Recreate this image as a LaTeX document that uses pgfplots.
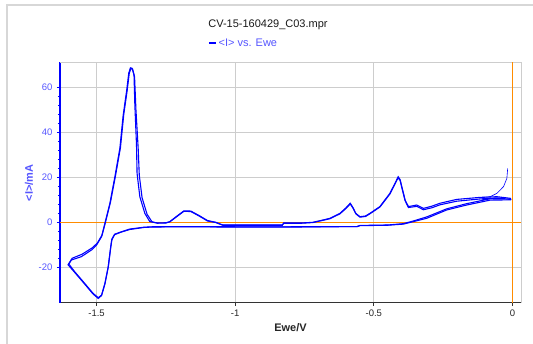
\documentclass[border=0pt]{standalone}
\usepackage{fontspec}
\setmainfont{Liberation Sans}
\usepackage{pgfplots}
\pgfplotsset{compat=1.18}
\definecolor{cvblue}{RGB}{0,0,255}
\definecolor{lblue}{RGB}{85,85,255}
\definecolor{orng}{RGB}{255,140,0}
\definecolor{gridgray}{RGB}{205,205,205}
\definecolor{framegray}{RGB}{215,215,215}
\begin{document}
\begin{tikzpicture}[x=1pt,y=1pt]
\path[use as bounding box] (0,0) rectangle (533,344);
\draw[framegray, line width=1.2pt] (7,0) -- (7,339) -- (533,339);
\node[font=\fontsize{11}{13}\selectfont, text=black!90] at (268,319) {CV-15-160429\_C03.mpr};
\begin{axis}[
  at={(60pt,41.3pt)}, anchor=south west,
  scale only axis, width=461pt, height=240.7pt,
  xmin=-1.632, xmax=0.031, ymin=-35.8, ymax=71.4,
  axis x line*=bottom, axis y line*=left,
  x axis line style={-, black!80, line width=0.9pt},
  y axis line style={-, cvblue, line width=1.4pt},
  xtick={-1.5,-1,-0.5,0}, xticklabels={-1.5,-1,-0.5,0},
  ytick={-20,0,20,40,60}, yticklabels={-20,0,20,40,60},
  minor y tick num=4,
  tick align=outside,
  major tick length=3pt, minor tick length=2pt,
  x tick style={black!80, line width=0.8pt},
  y tick style={cvblue, line width=0.8pt},
  minor y tick style={cvblue, line width=0.8pt},
  xticklabel style={font=\fontsize{9.5}{11}\selectfont, text=black!85, yshift=-1pt},
  yticklabel style={font=\fontsize{9.5}{11}\selectfont, text=lblue, xshift=-1pt},
  grid=major, major grid style={gridgray, line width=0.9pt},
  xlabel={\textbf{Ewe/V}},
  xlabel style={at={(axis description cs:0.5,0)}, anchor=center, yshift=-24.5pt, font=\fontsize{11}{13}\selectfont, text=black!85},
  ylabel={\textbf{<I>/mA}},
  ylabel style={at={(axis description cs:-0.0672,0.497)}, anchor=center, font=\fontsize{11}{13}\selectfont, text=lblue},
  legend style={at={(axis description cs:0.321,1.0777)}, anchor=west, draw=none, fill=none,
    inner sep=0pt, outer sep=0pt, font=\fontsize{11}{13}\selectfont, text=lblue,
    /tikz/every even column/.append style={column sep=0pt}},
  legend image code/.code={\draw[cvblue, line width=1.6pt] (-1pt,0pt) -- (6pt,0pt);},
  clip=false,
]
% frame (top, right)
\draw[gridgray, line width=0.9pt] (rel axis cs:0,1) -- (rel axis cs:1,1) -- (rel axis cs:1,0);
% orange zero lines
\draw[orng, line width=1.2pt] (axis cs:-1.632,0) -- (axis cs:0.031,0);
\draw[orng, line width=1.2pt] (axis cs:0,-35.8) -- (axis cs:0,71.4);

% cycle 1
\addplot[cvblue, line width=1.1pt] coordinates {
(-0.005,10.0) (-0.08,9.9) (-0.165,7.7) (-0.237,5.5) (-0.309,1.8) (-0.357,0.3)
(-0.393,-0.8) (-0.45,-1.3) (-0.55,-1.5) (-0.56,-1.9) (-0.8,-2.0) (-1.0,-2.0)
(-1.2,-1.9) (-1.30,-2.0) (-1.33,-2.2) (-1.38,-3.0) (-1.41,-4.2) (-1.435,-5.3)
(-1.445,-7.5) (-1.449,-10.9) (-1.458,-19.8) (-1.470,-27.2) (-1.482,-32.4)
(-1.494,-33.6) (-1.513,-31.6) (-1.543,-27.2) (-1.579,-22.0) (-1.600,-18.6)
(-1.591,-16.8) (-1.555,-15.3) (-1.518,-12.3) (-1.500,-10.1) (-1.482,-6.4)
(-1.470,-0.4) (-1.452,8.5) (-1.434,20.3) (-1.416,33.0) (-1.404,47.8)
(-1.392,58.2) (-1.384,66.4) (-1.378,68.8) (-1.372,68.6) (-1.365,65.6)
(-1.362,52.2) (-1.356,34.4) (-1.354,21.8) (-1.344,11.4) (-1.326,4.0)
(-1.308,0.3) (-1.28,-0.3) (-1.25,-0.2) (-1.236,0.3) (-1.21,2.8) (-1.185,5.1)
(-1.16,5.0) (-1.13,3.0) (-1.10,0.8) (-1.07,0.0) (-1.045,-1.2) (-0.83,-1.2)
(-0.825,-0.3) (-0.76,-0.3) (-0.72,0.0) (-0.694,0.7) (-0.658,1.8) (-0.622,4.0)
(-0.600,6.5) (-0.585,8.5) (-0.575,6.5) (-0.565,4.0) (-0.55,2.5) (-0.53,2.8)
(-0.514,4.0) (-0.478,7.0) (-0.442,12.9) (-0.425,17.0) (-0.412,20.3)
(-0.405,19.0) (-0.399,15.9) (-0.387,9.9) (-0.375,7.0) (-0.345,7.7)
(-0.321,6.2) (-0.29,7.2) (-0.261,8.5) (-0.201,10.2) (-0.117,11.1)
(-0.056,11.4) (-0.008,10.7) (-0.005,10.0)
};
\addlegendentry{<I> vs. Ewe}

% cycle 2 (slightly offset, partial doubling)
\addplot[cvblue, line width=1.1pt, forget plot] coordinates {
(-0.005,10.4) (-0.08,10.5) (-0.165,8.3) (-0.237,6.0) (-0.309,2.4) (-0.357,0.6)
(-0.393,-0.6) (-0.45,-1.2) (-0.55,-1.4) (-0.56,-1.9) (-0.8,-2.1) (-1.0,-2.1)
(-1.2,-2.0) (-1.30,-2.1) (-1.33,-2.3) (-1.38,-3.2) (-1.41,-4.3) (-1.435,-5.5)
(-1.445,-7.8) (-1.449,-11.2) (-1.458,-20.0) (-1.470,-27.5) (-1.482,-32.6)
(-1.494,-33.9) (-1.513,-31.9) (-1.543,-27.5) (-1.579,-22.3) (-1.603,-18.9)
(-1.588,-16.0) (-1.552,-14.2) (-1.515,-11.3) (-1.497,-9.2) (-1.480,-5.6)
(-1.468,0.0) (-1.450,8.9) (-1.432,20.6) (-1.414,33.2) (-1.402,48.0)
(-1.390,58.4) (-1.382,66.5) (-1.376,68.5) (-1.370,68.2) (-1.363,64.8)
(-1.358,50.0) (-1.350,33.0) (-1.346,21.0) (-1.336,11.0) (-1.318,3.6)
(-1.300,0.2) (-1.28,-0.4) (-1.25,-0.3) (-1.236,0.2) (-1.21,2.6) (-1.185,4.9)
(-1.16,4.8) (-1.13,2.8) (-1.10,0.6) (-1.07,-0.1) (-1.045,-1.3) (-0.83,-1.3)
(-0.825,-0.4) (-0.76,-0.4) (-0.72,-0.1) (-0.694,0.6) (-0.658,1.6) (-0.622,3.8)
(-0.600,6.2) (-0.585,8.2) (-0.575,6.3) (-0.565,3.8) (-0.55,2.3) (-0.53,2.6)
(-0.514,3.8) (-0.478,6.8) (-0.442,12.6) (-0.425,16.7) (-0.412,19.9)
(-0.405,18.6) (-0.399,15.5) (-0.387,9.6) (-0.375,6.6) (-0.345,7.1)
(-0.321,5.6) (-0.29,6.5) (-0.261,7.8) (-0.201,9.4) (-0.117,10.4)
(-0.056,10.9) (-0.008,10.2)
};

% thin tail near 0 V
\addplot[cvblue, line width=0.6pt, forget plot] coordinates {
(-0.117,11.0) (-0.080,11.4) (-0.056,12.9) (-0.032,15.9) (-0.020,19.6) (-0.017,24.0)
};
\end{axis}
\end{tikzpicture}
\end{document}
